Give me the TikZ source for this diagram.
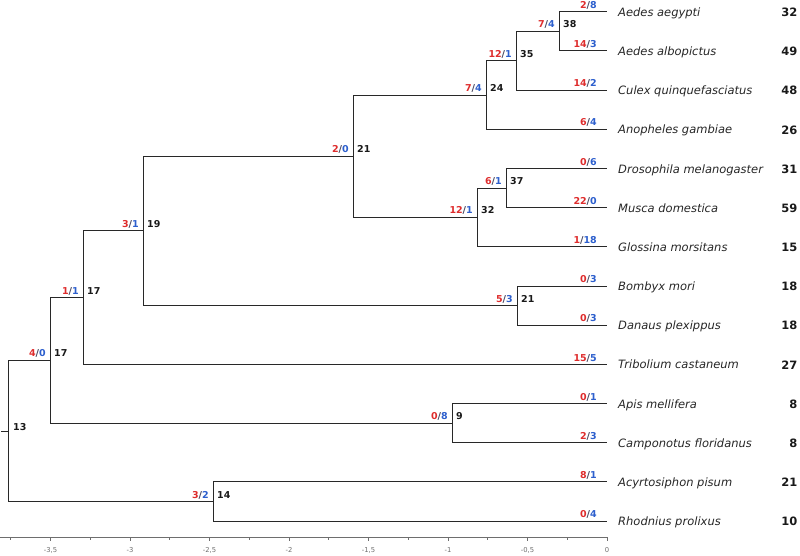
\documentclass[tikz,border=0pt]{standalone}
\usepackage{fontspec}
\setmainfont{DejaVu Sans}
\definecolor{cred}{RGB}{222,45,45}
\definecolor{cblue}{RGB}{45,95,205}
\definecolor{cslash}{RGB}{70,70,95}
\definecolor{cline}{RGB}{40,40,40}
\definecolor{caxis}{RGB}{110,110,110}
\newcommand\rb[2]{\textcolor{cred}{#1}\textcolor{cslash}{/}\textcolor{cblue}{#2}}
\begin{document}
\begin{tikzpicture}[x={(1pt,0)},y={(0,-1pt)},
  edge/.style={draw=cline,line width=1pt},
  cnt/.style={inner sep=0pt,font=\fontsize{9.5}{10}\selectfont\bfseries},
  nid/.style={inner sep=0pt,font=\fontsize{9.5}{10}\selectfont\bfseries,text=black!90},
  sp/.style={inner sep=0pt,anchor=base west,font=\fontsize{11.5}{12}\selectfont\itshape,text=black!85},
  tot/.style={inner sep=0pt,anchor=base east,font=\fontsize{11.5}{12}\selectfont\bfseries,text=black!90},
  tl/.style={inner sep=0pt,anchor=base,font=\fontsize{6.8}{7}\selectfont,text=caxis}]
\useasboundingbox (0,0) rectangle (800,555);
% leaves
\coordinate (l0) at (607,11.7);
\coordinate (l1) at (607,50.9);
\coordinate (l2) at (607,90.1);
\coordinate (l3) at (607,129.2);
\coordinate (l4) at (607,168.4);
\coordinate (l5) at (607,207.6);
\coordinate (l6) at (607,246.8);
\coordinate (l7) at (607,286.0);
\coordinate (l8) at (607,325.1);
\coordinate (l9) at (607,364.3);
\coordinate (l10) at (607,403.5);
\coordinate (l11) at (607,442.7);
\coordinate (l12) at (607,481.9);
\coordinate (l13) at (607,521.0);
% internal nodes
\coordinate (n38) at (559,31.3);
\coordinate (n35) at (516,60.7);
\coordinate (n24) at (486,95.0);
\coordinate (n37) at (506,188.0);
\coordinate (n32) at (477,217.4);
\coordinate (n21) at (353,156.2);
\coordinate (n21b) at (517,305.6);
\coordinate (n19) at (143,230.9);
\coordinate (n17b) at (83,297.6);
\coordinate (n9) at (452,423.1);
\coordinate (n17a) at (50,360.4);
\coordinate (n14) at (213,501.5);
\coordinate (n13) at (8,431.0);
\coordinate (stub) at (1,431.0);
% edges
\draw[edge] (stub) -- (n13);
\draw[edge] (n13) |- (n17a);
\draw[edge] (n13) |- (n14);
\draw[edge] (n14) |- (l12);
\draw[edge] (n14) |- (l13);
\draw[edge] (n17a) |- (n17b);
\draw[edge] (n17a) |- (n9);
\draw[edge] (n9) |- (l10);
\draw[edge] (n9) |- (l11);
\draw[edge] (n17b) |- (n19);
\draw[edge] (n17b) |- (l9);
\draw[edge] (n19) |- (n21);
\draw[edge] (n19) |- (n21b);
\draw[edge] (n21b) |- (l7);
\draw[edge] (n21b) |- (l8);
\draw[edge] (n21) |- (n24);
\draw[edge] (n21) |- (n32);
\draw[edge] (n32) |- (n37);
\draw[edge] (n32) |- (l6);
\draw[edge] (n37) |- (l4);
\draw[edge] (n37) |- (l5);
\draw[edge] (n24) |- (n35);
\draw[edge] (n24) |- (l3);
\draw[edge] (n35) |- (n38);
\draw[edge] (n35) |- (l2);
\draw[edge] (n38) |- (l0);
\draw[edge] (n38) |- (l1);
% internal labels
\node[cnt,anchor=base east] (c38) at ([xshift=-4pt,yshift=3.5pt]n38) {\rb{7}{4}};
\node[nid,anchor=base west] (i38) at ([xshift=4pt,yshift=3.5pt]n38) {38};
\node[cnt,anchor=base east] (c35) at ([xshift=-4pt,yshift=3.5pt]n35) {\rb{12}{1}};
\node[nid,anchor=base west] (i35) at ([xshift=4pt,yshift=3.5pt]n35) {35};
\node[cnt,anchor=base east] (c24) at ([xshift=-4pt,yshift=3.5pt]n24) {\rb{7}{4}};
\node[nid,anchor=base west] (i24) at ([xshift=4pt,yshift=3.5pt]n24) {24};
\node[cnt,anchor=base east] (c37) at ([xshift=-4pt,yshift=3.5pt]n37) {\rb{6}{1}};
\node[nid,anchor=base west] (i37) at ([xshift=4pt,yshift=3.5pt]n37) {37};
\node[cnt,anchor=base east] (c32) at ([xshift=-4pt,yshift=3.5pt]n32) {\rb{12}{1}};
\node[nid,anchor=base west] (i32) at ([xshift=4pt,yshift=3.5pt]n32) {32};
\node[cnt,anchor=base east] (c21) at ([xshift=-4pt,yshift=3.5pt]n21) {\rb{2}{0}};
\node[nid,anchor=base west] (i21) at ([xshift=4pt,yshift=3.5pt]n21) {21};
\node[cnt,anchor=base east] (c21b) at ([xshift=-4pt,yshift=3.5pt]n21b) {\rb{5}{3}};
\node[nid,anchor=base west] (i21b) at ([xshift=4pt,yshift=3.5pt]n21b) {21};
\node[cnt,anchor=base east] (c19) at ([xshift=-4pt,yshift=3.5pt]n19) {\rb{3}{1}};
\node[nid,anchor=base west] (i19) at ([xshift=4pt,yshift=3.5pt]n19) {19};
\node[cnt,anchor=base east] (c17b) at ([xshift=-4pt,yshift=3.5pt]n17b) {\rb{1}{1}};
\node[nid,anchor=base west] (i17b) at ([xshift=4pt,yshift=3.5pt]n17b) {17};
\node[cnt,anchor=base east] (c9) at ([xshift=-4pt,yshift=3.5pt]n9) {\rb{0}{8}};
\node[nid,anchor=base west] (i9) at ([xshift=4pt,yshift=3.5pt]n9) {9};
\node[cnt,anchor=base east] (c17a) at ([xshift=-4pt,yshift=3.5pt]n17a) {\rb{4}{0}};
\node[nid,anchor=base west] (i17a) at ([xshift=4pt,yshift=3.5pt]n17a) {17};
\node[cnt,anchor=base east] (c14) at ([xshift=-4pt,yshift=3.5pt]n14) {\rb{3}{2}};
\node[nid,anchor=base west] (i14) at ([xshift=4pt,yshift=3.5pt]n14) {14};
\node[nid,anchor=base west] (i13) at ([xshift=5pt,yshift=0.5pt]n13) {13};
% leaf labels
\foreach \i/\r/\b/\name/\t in {
  0/2/8/Aedes aegypti/32,
  1/14/3/Aedes albopictus/49,
  2/14/2/Culex quinquefasciatus/48,
  3/6/4/Anopheles gambiae/26,
  4/0/6/Drosophila melanogaster/31,
  5/22/0/Musca domestica/59,
  6/1/18/Glossina morsitans/15,
  7/0/3/Bombyx mori/18,
  8/0/3/Danaus plexippus/18,
  9/15/5/Tribolium castaneum/27,
  10/0/1/Apis mellifera/8,
  11/2/3/Camponotus floridanus/8,
  12/8/1/Acyrtosiphon pisum/21,
  13/0/4/Rhodnius prolixus/10}{
  \node[cnt,anchor=base east] (lc\i) at ([xshift=-10pt,yshift=3.3pt]l\i) {\rb{\r}{\b}};
  \node[sp] (ln\i) at ([xshift=11pt,yshift=-4.6pt]l\i) {\name};
  \node[tot] (lt\i) at ([yshift=-4.8pt]l\i -| 797.5,0) {\t};
}
% axis
\coordinate (a0) at (0,537);
\coordinate (a1) at (607,537);
\draw[caxis,line width=0.8pt] (a0) -- (a1);
\foreach \k/\lab in {1/{-3,5},2/{-3},3/{-2,5},4/{-2},5/{-1,5},6/{-1},7/{-0,5},8/{0}}{
  \coordinate (t\k) at ({607-79.5*(8-\k)},537);
  \draw[caxis,line width=0.8pt] (t\k) -- ++(0,4);
  \node[tl] (tl\k) at ([yshift=-15.5pt]t\k) {\lab};
}
\foreach \k in {1,...,8}{
  \coordinate (m\k) at ({607-79.5*(8-\k)-39.75},537);
  \draw[caxis,line width=0.6pt] (m\k) -- ++(0,2.5);
}
\end{tikzpicture}
\end{document}
